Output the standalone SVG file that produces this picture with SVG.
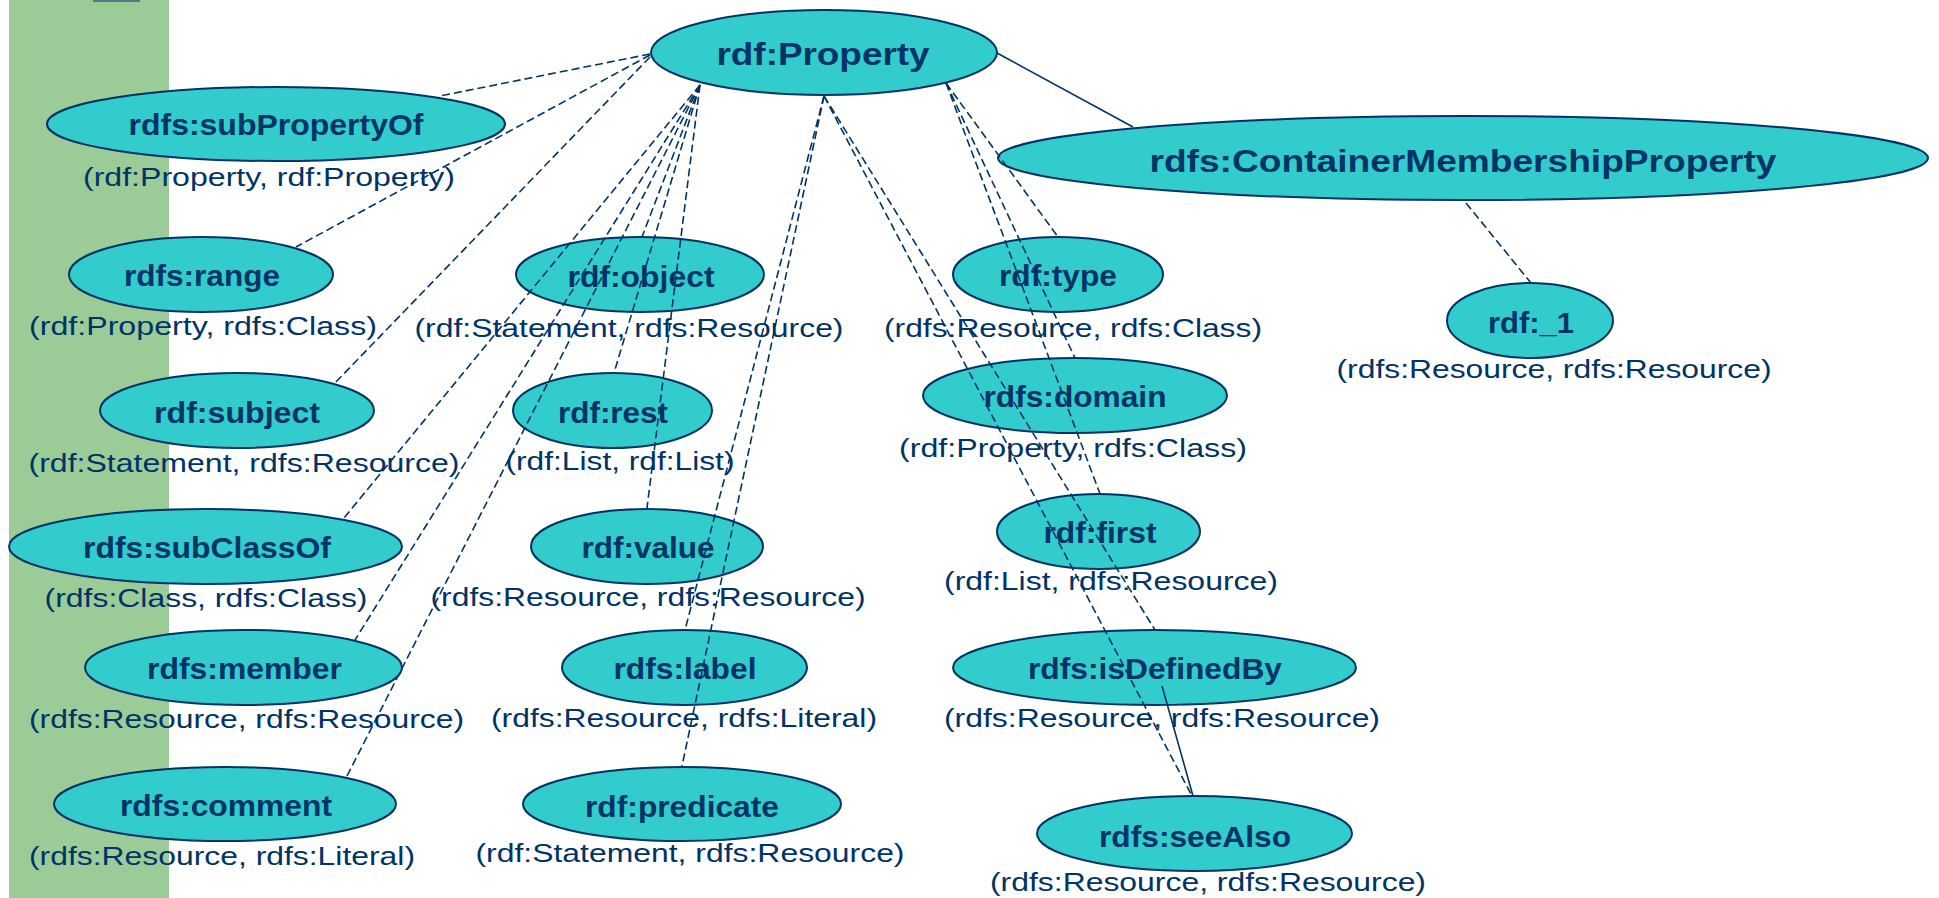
<svg xmlns="http://www.w3.org/2000/svg" width="1939" height="898" viewBox="0 0 1939 898">
<style>
.n ellipse{fill:#33CCCC;stroke:#003366;stroke-width:2}
.t{font-family:"Liberation Sans",Arial,sans-serif;font-weight:bold;font-size:30px;fill:#003366;text-anchor:middle}
.b{font-size:32px}
.l{font-family:"Liberation Sans",Arial,sans-serif;font-size:26px;fill:#003366;text-anchor:middle}
.d{stroke:#003366;stroke-width:1.6;stroke-dasharray:8 4;fill:none}
.s{stroke:#003366;stroke-width:1.6;fill:none}
</style>
<rect x="0" y="0" width="1939" height="898" fill="#FFFFFF"/>
<rect x="9" y="0" width="160" height="898" fill="#9BCC98"/>
<rect x="93" y="0" width="47" height="2" fill="#4D7A8A"/>

<g id="rdf-Property" class="n"><ellipse cx="824" cy="52.5" rx="173" ry="42.5"/><text class="t b" x="823" y="65" textLength="213" lengthAdjust="spacingAndGlyphs">rdf:Property</text></g>
<g id="rdfs-ContainerMembershipProperty" class="n"><ellipse cx="1463" cy="158" rx="465" ry="42"/><text class="t b" x="1463" y="172" textLength="627" lengthAdjust="spacingAndGlyphs">rdfs:ContainerMembershipProperty</text></g>
<g id="rdf-_1" class="n"><ellipse cx="1530" cy="320.5" rx="83" ry="37.5"/><text class="t" x="1531" y="333" textLength="86" lengthAdjust="spacingAndGlyphs">rdf:_1</text><text class="l" x="1554" y="378" textLength="435" lengthAdjust="spacingAndGlyphs">(rdfs:Resource, rdfs:Resource)</text></g>

<g id="rdfs-subPropertyOf" class="n"><ellipse cx="276" cy="124" rx="229" ry="37"/><text class="t" x="276" y="135" textLength="295" lengthAdjust="spacingAndGlyphs">rdfs:subPropertyOf</text><text class="l" x="269" y="186" textLength="372" lengthAdjust="spacingAndGlyphs">(rdf:Property, rdf:Property)</text></g>
<g id="rdfs-range" class="n"><ellipse cx="201" cy="274.5" rx="132" ry="37.5"/><text class="t" x="202" y="286" textLength="156" lengthAdjust="spacingAndGlyphs">rdfs:range</text><text class="l" x="203" y="335" textLength="348" lengthAdjust="spacingAndGlyphs">(rdf:Property, rdfs:Class)</text></g>
<g id="rdf-subject" class="n"><ellipse cx="237" cy="410.5" rx="137" ry="37.5"/><text class="t" x="237" y="423" textLength="166" lengthAdjust="spacingAndGlyphs">rdf:subject</text><text class="l" x="244" y="472" textLength="431" lengthAdjust="spacingAndGlyphs">(rdf:Statement, rdfs:Resource)</text></g>
<g id="rdfs-subClassOf" class="n"><ellipse cx="205.5" cy="546.5" rx="196.5" ry="37.5"/><text class="t" x="207" y="558" textLength="248" lengthAdjust="spacingAndGlyphs">rdfs:subClassOf</text><text class="l" x="206" y="607" textLength="323" lengthAdjust="spacingAndGlyphs">(rdfs:Class, rdfs:Class)</text></g>
<g id="rdfs-member" class="n"><ellipse cx="243.5" cy="667.5" rx="158.5" ry="37.5"/><text class="t" x="244.5" y="679" textLength="195" lengthAdjust="spacingAndGlyphs">rdfs:member</text><text class="l" x="246.5" y="728" textLength="435" lengthAdjust="spacingAndGlyphs">(rdfs:Resource, rdfs:Resource)</text></g>
<g id="rdfs-comment" class="n"><ellipse cx="225" cy="804" rx="171" ry="37"/><text class="t" x="226" y="816" textLength="212" lengthAdjust="spacingAndGlyphs">rdfs:comment</text><text class="l" x="222" y="865" textLength="386" lengthAdjust="spacingAndGlyphs">(rdfs:Resource, rdfs:Literal)</text></g>

<g id="rdf-object" class="n"><ellipse cx="640" cy="274.5" rx="124" ry="37.5"/><text class="t" x="641" y="287" textLength="147" lengthAdjust="spacingAndGlyphs">rdf:object</text><text class="l" x="629" y="337" textLength="429" lengthAdjust="spacingAndGlyphs">(rdf:Statement, rdfs:Resource)</text></g>
<g id="rdf-rest" class="n"><ellipse cx="612.5" cy="410.5" rx="99.5" ry="37.5"/><text class="t" x="613" y="423" textLength="110" lengthAdjust="spacingAndGlyphs">rdf:rest</text><text class="l" x="620" y="470" textLength="229" lengthAdjust="spacingAndGlyphs">(rdf:List, rdf:List)</text></g>
<g id="rdf-value" class="n"><ellipse cx="647" cy="546.5" rx="116" ry="37.5"/><text class="t" x="648" y="558" textLength="133" lengthAdjust="spacingAndGlyphs">rdf:value</text><text class="l" x="648" y="606" textLength="435" lengthAdjust="spacingAndGlyphs">(rdfs:Resource, rdfs:Resource)</text></g>
<g id="rdfs-label" class="n"><ellipse cx="684.5" cy="667.5" rx="122.5" ry="37.5"/><text class="t" x="685" y="679" textLength="143" lengthAdjust="spacingAndGlyphs">rdfs:label</text><text class="l" x="684" y="727" textLength="386" lengthAdjust="spacingAndGlyphs">(rdfs:Resource, rdfs:Literal)</text></g>
<g id="rdf-predicate" class="n"><ellipse cx="682" cy="804" rx="159" ry="37"/><text class="t" x="682" y="817" textLength="194" lengthAdjust="spacingAndGlyphs">rdf:predicate</text><text class="l" x="690" y="862" textLength="429" lengthAdjust="spacingAndGlyphs">(rdf:Statement, rdfs:Resource)</text></g>

<g id="rdf-type" class="n"><ellipse cx="1058" cy="274.5" rx="105" ry="37.5"/><text class="t" x="1058" y="286" textLength="118" lengthAdjust="spacingAndGlyphs">rdf:type</text><text class="l" x="1073" y="337" textLength="378" lengthAdjust="spacingAndGlyphs">(rdfs:Resource, rdfs:Class)</text></g>
<g id="rdfs-domain" class="n"><ellipse cx="1075" cy="395.5" rx="152" ry="37.5"/><text class="t" x="1075" y="407" textLength="183" lengthAdjust="spacingAndGlyphs">rdfs:domain</text><text class="l" x="1073" y="457" textLength="348" lengthAdjust="spacingAndGlyphs">(rdf:Property, rdfs:Class)</text></g>
<g id="rdf-first" class="n"><ellipse cx="1098.5" cy="531.5" rx="101.5" ry="37.5"/><text class="t" x="1100" y="543" textLength="113" lengthAdjust="spacingAndGlyphs">rdf:first</text><text class="l" x="1111" y="590" textLength="334" lengthAdjust="spacingAndGlyphs">(rdf:List, rdfs:Resource)</text></g>
<g id="rdfs-isDefinedBy" class="n"><ellipse cx="1154.5" cy="667.5" rx="201.5" ry="37.5"/><text class="t" x="1155" y="679" textLength="254" lengthAdjust="spacingAndGlyphs">rdfs:isDefinedBy</text><text class="l" x="1162" y="727" textLength="436" lengthAdjust="spacingAndGlyphs">(rdfs:Resource, rdfs:Resource)</text></g>
<g id="rdfs-seeAlso" class="n"><ellipse cx="1194.5" cy="833.5" rx="157.5" ry="37.5"/><text class="t" x="1195" y="847" textLength="192" lengthAdjust="spacingAndGlyphs">rdfs:seeAlso</text><text class="l" x="1208" y="891" textLength="436" lengthAdjust="spacingAndGlyphs">(rdfs:Resource, rdfs:Resource)</text></g>

<g id="connectors">
<line class="d" x1="650" y1="54" x2="440" y2="96"/>
<line class="d" x1="650" y1="55" x2="296" y2="247"/>
<line class="d" x1="650" y1="57" x2="335" y2="383"/>
<line class="d" x1="700" y1="85" x2="642" y2="237"/>
<line class="d" x1="700" y1="85" x2="614" y2="373"/>
<line class="d" x1="700" y1="85" x2="647" y2="508"/>
<line class="d" x1="700" y1="85" x2="344" y2="518"/>
<line class="d" x1="700" y1="85" x2="355" y2="640"/>
<line class="d" x1="700" y1="85" x2="347" y2="776"/>
<line class="d" x1="824" y1="96" x2="685" y2="630"/>
<line class="d" x1="824" y1="96" x2="682" y2="766"/>
<line class="d" x1="824" y1="96" x2="1192" y2="796"/>
<line class="d" x1="824" y1="96" x2="1155" y2="630"/>
<line class="d" x1="946" y1="83" x2="1058" y2="237"/>
<line class="d" x1="946" y1="83" x2="1075" y2="358"/>
<line class="d" x1="946" y1="83" x2="1100" y2="494"/>
<line class="s" x1="997" y1="53" x2="1133" y2="127"/>
<line class="d" x1="1466" y1="203" x2="1531" y2="283"/>
<line class="s" x1="1162" y1="686" x2="1193" y2="796"/>
</g>
</svg>
